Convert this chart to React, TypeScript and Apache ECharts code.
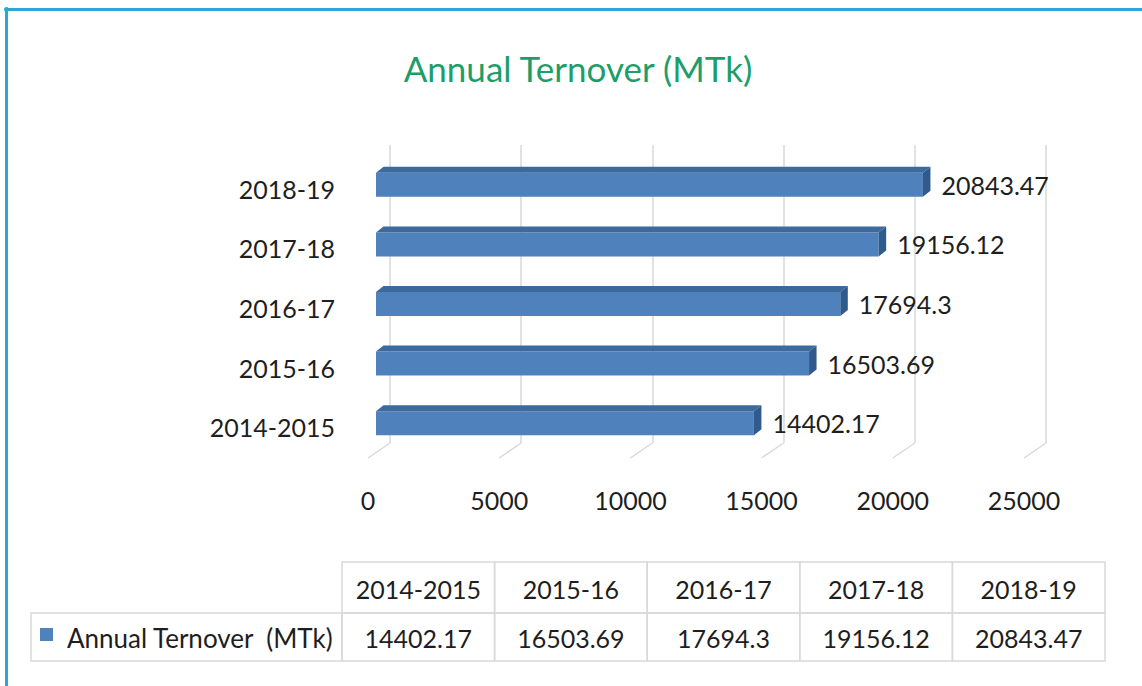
import React, { useEffect, useRef } from "react";
import * as echarts from "echarts";

const chartTitle = "Annual Ternover (MTk)";
const seriesName = "Annual Ternover  (MTk)";
const categories = ["2014-2015", "2015-16", "2016-17", "2017-18", "2018-19"];
const turnover = [14402.17, 16503.69, 17694.3, 19156.12, 20843.47];
const xTicks = [0, 5000, 10000, 15000, 20000, 25000];

const FONT = "Lato";
const TEXT = "#1e1e1e";
const GRIDC = "#d9d9d9";

export default function App() {
  const ref = useRef<HTMLDivElement>(null);
  useEffect(() => {
    document.body.style.margin = "0";
    const chart = echarts.init(ref.current as HTMLDivElement, null, { renderer: "svg" });

    // table geometry
    const tLeft = 31;
    const c0w = 311;
    const cw = 152.6;
    const r1y = 562;
    const r1h = 51;
    const r2y = 613;
    const r2h = 48;
    const table: any[] = [];
    categories.forEach((c, i) => {
      const x = tLeft + c0w + i * cw;
      table.push({
        type: "rect",
        shape: { x, y: r1y, width: cw, height: r1h },
        style: { fill: "none", stroke: GRIDC, lineWidth: 1.5 },
      });
      table.push({
        type: "text",
        style: { text: c, x: x + cw / 2, y: r1y + r1h / 2 + 1, align: "center", verticalAlign: "middle", fontSize: 25, fontFamily: FONT, fill: TEXT },
      });
      table.push({
        type: "rect",
        shape: { x, y: r2y, width: cw, height: r2h },
        style: { fill: "none", stroke: GRIDC, lineWidth: 1.5 },
      });
      table.push({
        type: "text",
        style: { text: String(turnover[i]), x: x + cw / 2, y: r2y + r2h / 2 + 1, align: "center", verticalAlign: "middle", fontSize: 25, fontFamily: FONT, fill: TEXT },
      });
    });
    table.push({
      type: "rect",
      shape: { x: tLeft, y: r2y, width: c0w, height: r2h },
      style: { fill: "none", stroke: GRIDC, lineWidth: 1.5 },
    });
    table.push({
      type: "rect",
      shape: { x: 40, y: 628, width: 13, height: 13 },
      style: { fill: "#4f81bd" },
    });
    table.push({
      type: "text",
      style: { text: seriesName, x: 67, y: r2y + r2h / 2 + 1, align: "left", verticalAlign: "middle", fontSize: 26, fontFamily: FONT, fill: TEXT },
    });

    const option: any = {
      animation: false,
      backgroundColor: "#ffffff",
      title: {
        text: chartTitle,
        left: 573,
        textAlign: "center",
        top: 45,
        textStyle: { color: "#1d9e68", fontSize: 35, fontWeight: "normal", fontFamily: FONT },
      },
      grid: { left: 390, right: 96, top: 145, bottom: 243 },
      xAxis: {
        type: "value",
        min: 0,
        max: 25000,
        interval: 5000,
        axisLine: { show: false },
        axisTick: { show: false },
        splitLine: { show: true, lineStyle: { color: GRIDC, width: 1.5 } },
        axisLabel: {
          margin: 44,
          padding: [0, 44, 0, 0],
          fontSize: 25,
          fontFamily: FONT,
          color: TEXT,
          formatter: (v: number) => String(v),
        },
      },
      yAxis: {
        type: "category",
        data: categories,
        axisLine: { show: false },
        axisTick: { show: false },
        splitLine: { show: false },
        axisLabel: {
          margin: 55,
          verticalAlign: "top",
          lineHeight: 28,
          fontSize: 25,
          fontFamily: FONT,
          color: TEXT,
        },
      },
      series: [
        {
          type: "custom",
          name: "floor",
          silent: true,
          data: xTicks.map((v) => [v, 0]),
          renderItem: (params: any, api: any) => {
            const p = api.coord([api.value(0), 0]);
            const cs = params.coordSys;
            const bottom = cs.y + cs.height;
            return {
              type: "line",
              shape: { x1: p[0], y1: bottom, x2: p[0] - 22, y2: bottom + 15 },
              style: { stroke: GRIDC, lineWidth: 1.5 },
            };
          },
        },
        {
          type: "custom",
          name: seriesName,
          data: turnover.map((v, i) => [v, i]),
          renderItem: (params: any, api: any) => {
            const v = api.value(0);
            const idx = api.value(1);
            const end = api.coord([v, idx]);
            const start = api.coord([0, idx]);
            const cy = end[1] + 10;
            const h = 24;
            const dx = 7.5;
            const dy = 6;
            const x0 = start[0] - 14;
            const x1 = end[0] - 14;
            const yt = cy - h / 2;
            const yb = cy + h / 2;
            return {
              type: "group",
              children: [
                { type: "rect", shape: { x: x0, y: yt, width: x1 - x0, height: h }, style: { fill: "#4f81bd" } },
                {
                  type: "polygon",
                  shape: { points: [[x0, yt], [x1, yt], [x1 + dx, yt - dy], [x0 + dx, yt - dy]] },
                  style: { fill: "#3d6a9c" },
                },
                {
                  type: "polygon",
                  shape: { points: [[x1, yt], [x1 + dx, yt - dy], [x1 + dx, yb - dy], [x1, yb]] },
                  style: { fill: "#2e5a8c" },
                },
                {
                  type: "text",
                  style: {
                    text: String(turnover[params.dataIndex]),
                    x: x1 + dx + 11,
                    y: cy,
                    align: "left",
                    verticalAlign: "middle",
                    fontSize: 25,
                    fontFamily: FONT,
                    fill: TEXT,
                  },
                },
              ],
            };
          },
        },
      ],
      graphic: [
        {
          type: "polyline",
          shape: { points: [[6.5, 686], [6.5, 9.5], [1142, 9.5]] },
          style: { stroke: "#2aa8d3", lineWidth: 3, fill: "none" },
        },
        { type: "circle", shape: { cx: 6.5, cy: 9.5, r: 2.5 }, style: { fill: "#2aa8d3" } },
        ...table,
      ],
    };
    chart.setOption(option);
    return () => chart.dispose();
  }, []);
  return <div ref={ref} style={{ width: 1142, height: 686 }} />;
}
